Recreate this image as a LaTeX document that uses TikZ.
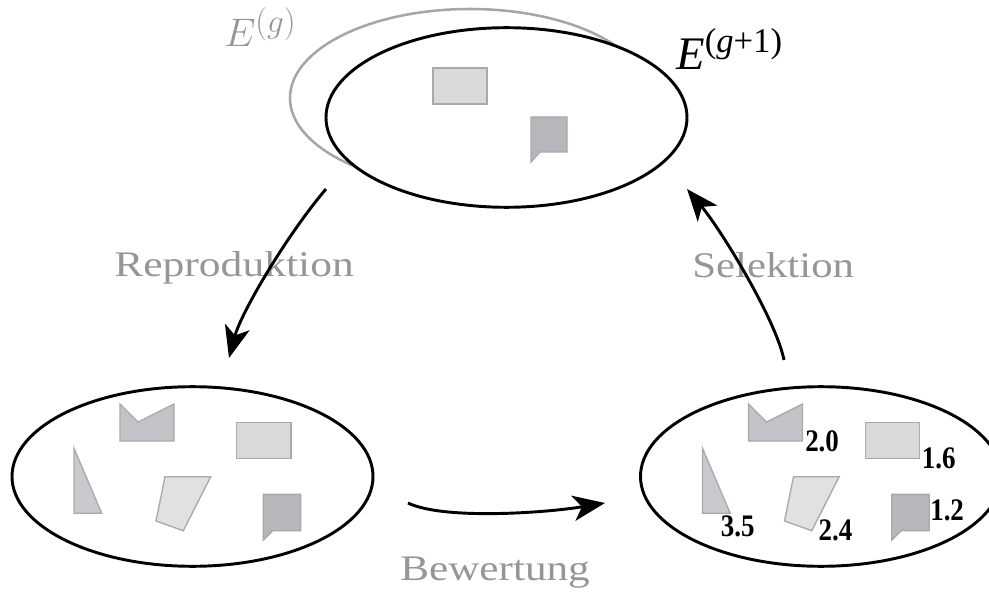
\documentclass[tikz,border=0pt]{standalone}
\usepackage{fontspec}
\setmainfont{Liberation Serif}
\usetikzlibrary{shapes.geometric,arrows.meta}

\definecolor{outl}{HTML}{A9A8AB}
\definecolor{fillM}{HTML}{C4C2C6}
\definecolor{fillR}{HTML}{D9D9D9}
\definecolor{fillT}{HTML}{CBC9CD}
\definecolor{fillQ}{HTML}{E1E1E1}
\definecolor{fillB}{HTML}{B8B6BA}
\definecolor{labgrey}{HTML}{969696}
\definecolor{oldgen}{HTML}{A6A6A6}

\tikzset{
  population/.style={ellipse, draw=black, fill=white, line width=2.2pt,
    minimum width=270.75pt, minimum height=134.7pt, inner sep=0pt},
  oldpop/.style={ellipse, draw=oldgen, line width=1.9pt,
    minimum width=270pt, minimum height=133.5pt, inner sep=0pt},
  indiv/.style={draw=outl, line width=1pt, line join=miter},
  flow/.style={line width=2.2pt, -{Stealth[length=24pt,width=19pt,inset=6.5pt]}},
  phase/.style={anchor=base west, inner sep=0pt, text=labgrey,
    font=\fontsize{27}{30}\selectfont},
  score/.style={anchor=base west, inner sep=0pt,
    font=\fontsize{23.5}{25}\selectfont\bfseries},
}

% the five individuals of a population, drawn around the current origin
\newcommand\fiveindividuals{%
  \draw[indiv, fill=fillM] (120,404) -- (138,422) -- (174,404) -- (174,441) -- (120,441) -- cycle;
  \draw[indiv, fill=fillR] (236.7,422.3) rectangle (291,458.7);
  \draw[indiv, fill=fillT] (74,448.3) -- (101.7,513.3) -- (74,513.3) -- cycle;
  \draw[indiv, fill=fillQ] (165,476.7) -- (210.7,476.7) -- (183.3,530.7) -- (156,521) -- cycle;
  \draw[indiv, fill=fillB] (263.3,494.3) -- (300.7,494.3) -- (300.7,530.7) -- (272.7,530.7) -- (263.3,540) -- cycle;
}

\begin{document}
\begin{tikzpicture}[x=0.75pt, y=-0.75pt]
  \path[use as bounding box, clip] (0,0) rectangle (989,595);

  % previous and next generation
  \node[oldpop] (gold) at (470,98) {};
  \node[population] (gnew) at (506.5,117.5) {};
  \draw[indiv, fill=fillR] (433,68) rectangle (487,104);
  \draw[indiv, fill=fillB] (531,117) -- (567,117) -- (567,152) -- (540,152) -- (531,162) -- cycle;

  \node[anchor=base west, inner sep=0pt, text=labgrey,
        font=\fontsize{24.88}{27}\selectfont] (lg) at (224,47) {\scalebox{1.2}{$E^{(g)}$}};
  \node[anchor=base west, inner sep=0pt, font=\fontsize{35}{38}\selectfont] (lg1) at (676,70)
    {\textit{E}\raisebox{13.4pt}{\fontsize{26}{28}\selectfont(\textit{g}+1)}};

  % offspring population
  \node[population] (offspring) at (192.5,476.5) {};
  \fiveindividuals

  % evaluated population
  \node[population] (rated) at (821,476.5) {};
  \begin{scope}[shift={(628.5,0)}]
    \fiveindividuals
  \end{scope}
  \node[score] (s20) at (805,451)   {\scalebox{0.86}[1]{2.0}};
  \node[score] (s16) at (921.7,468) {\scalebox{0.86}[1]{1.6}};
  \node[score] (s35) at (720.7,536.7) {\scalebox{0.86}[1]{3.5}};
  \node[score] (s24) at (818.3,540) {\scalebox{0.86}[1]{2.4}};
  \node[score] (s12) at (930,520)   {\scalebox{0.86}[1]{1.2}};

  % phase labels
  \node[phase] (trep) at (114,277) {\scalebox{1.21}[1]{Reproduktion}};
  \node[phase] (tsel) at (692,278) {\scalebox{1.19}[1]{Selektion}};
  \node[phase] (tbew) at (400,580) {\scalebox{1.2}[1]{Bewertung}};

  % cycle arrows
  \coordinate (rs) at (326,189);
  \coordinate (re) at (229,358);
  \coordinate (bs) at (408,503);
  \coordinate (be) at (605,503);
  \coordinate (ss) at (784,360);
  \coordinate (se) at (687,189);
  \draw[flow] (rs) .. controls +(-40,47) and +(12,-45) .. (re);
  \draw[flow] (bs) .. controls +(35,17) and +(-60,10) .. (be);
  \draw[flow] (ss) .. controls +(-8,-40) and +(35,42) .. (se);
\end{tikzpicture}
\end{document}
